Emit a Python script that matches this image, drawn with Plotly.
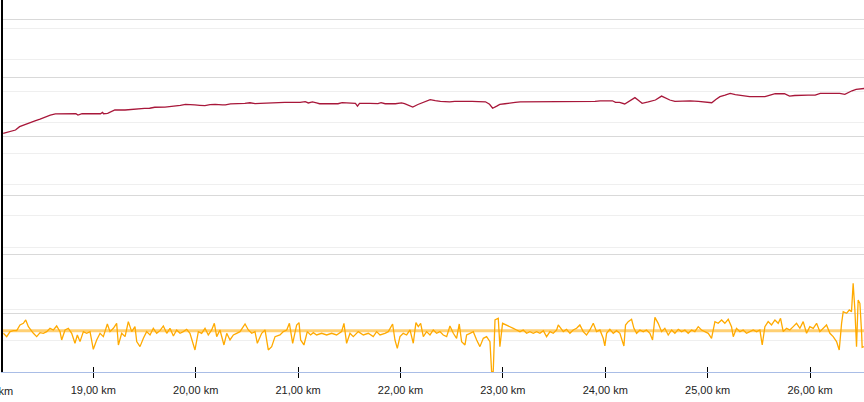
import plotly.graph_objects as go

# ---- data ----
hr_km = [18.12, 18.19, 18.24, 18.28, 18.33, 18.38, 18.43, 18.48, 18.53, 18.58, 18.63, 18.69, 18.77, 18.83, 18.85,
         18.89, 18.97, 19.07, 19.09, 19.10, 19.14, 19.16, 19.21, 19.31, 19.36, 19.39, 19.50, 19.55, 19.60, 19.70,
         19.75, 19.80, 19.85, 19.90, 19.94, 19.99, 20.04, 20.09, 20.14, 20.19, 20.26, 20.29, 20.34, 20.38, 20.43,
         20.48, 20.53, 20.58, 20.63, 20.71, 20.77, 20.87, 21.02, 21.07, 21.10, 21.14, 21.18, 21.21, 21.31, 21.39,
         21.43, 21.49, 21.56, 21.58, 21.60, 21.70, 21.78, 21.81, 21.85, 21.95, 22.01, 22.04, 22.09, 22.12, 22.17,
         22.24, 22.29, 22.34, 22.39, 22.48, 22.53, 22.60, 22.66, 22.70, 22.76, 22.83, 22.87, 22.90, 22.94, 22.97,
         23.02, 23.07, 23.12, 23.17, 23.26, 23.36, 23.41, 23.51, 23.61, 23.70, 23.80, 23.90, 23.95, 24.00, 24.07,
         24.10, 24.14, 24.19, 24.24, 24.29, 24.32, 24.36, 24.42, 24.49, 24.55, 24.59, 24.63, 24.68, 24.75, 24.83,
         24.91, 24.97, 25.04, 25.08, 25.12, 25.17, 25.22, 25.27, 25.32, 25.36, 25.41, 25.49, 25.56, 25.61, 25.66,
         25.75, 25.80, 25.85, 25.90, 25.98, 26.05, 26.10, 26.19, 26.29, 26.34, 26.37, 26.41, 26.45, 26.49, 26.53]
heart_rate = [121.7, 122.6, 123.4, 125.1, 126.0, 126.8, 128.1, 129.0, 130.2, 131.0, 131.6, 131.7, 131.7, 131.7, 131.0,
              131.7, 131.7, 131.7, 132.4, 131.7, 131.9, 132.4, 133.6, 133.6, 133.8, 134.3, 134.4, 134.5, 135.0, 135.1,
              135.3, 135.6, 136.0, 136.5, 136.5, 136.2, 136.0, 135.8, 136.3, 136.5, 136.2, 136.2, 136.7, 136.7, 136.9,
              137.0, 137.3, 136.9, 137.0, 137.2, 137.3, 137.5, 137.5, 137.9, 137.2, 137.7, 137.2, 136.8, 136.8, 136.8,
              137.4, 137.2, 137.0, 135.6, 137.0, 137.0, 136.9, 137.4, 136.8, 136.8, 137.2, 136.8, 135.9, 135.1, 136.4,
              137.8, 138.9, 138.4, 138.0, 137.7, 138.0, 138.0, 137.8, 138.0, 137.9, 137.8, 136.5, 134.5, 135.6, 136.5,
              136.8, 137.0, 137.5, 137.8, 137.8, 137.8, 137.9, 138.0, 138.0, 138.0, 138.0, 138.0, 138.3, 138.3, 138.3,
              137.5, 137.5, 136.7, 138.4, 139.9, 138.7, 137.0, 137.7, 138.7, 140.7, 139.7, 138.7, 138.0, 138.2, 138.3,
              138.0, 137.8, 137.3, 139.0, 140.4, 141.2, 142.1, 141.5, 141.1, 140.6, 140.4, 140.4, 140.4, 141.2, 141.9,
              141.9, 140.7, 141.0, 141.2, 141.2, 141.2, 142.1, 142.1, 142.1, 141.6, 142.5, 143.4, 144.1, 144.3, 144.6]

speed_km = [18.122, 18.154, 18.187, 18.219, 18.252, 18.284, 18.317, 18.340, 18.366, 18.398, 18.415, 18.447, 18.480,
            18.512, 18.545, 18.577, 18.610, 18.642, 18.675, 18.691, 18.724, 18.756, 18.789, 18.821, 18.844, 18.870,
            18.903, 18.935, 18.968, 19.000, 19.033, 19.066, 19.098, 19.137, 19.163, 19.196, 19.228, 19.245, 19.277,
            19.310, 19.342, 19.375, 19.407, 19.424, 19.456, 19.489, 19.521, 19.554, 19.586, 19.619, 19.651, 19.684,
            19.717, 19.749, 19.782, 19.814, 19.847, 19.879, 19.912, 19.944, 19.993, 20.026, 20.058, 20.091, 20.123,
            20.156, 20.182, 20.205, 20.237, 20.276, 20.303, 20.335, 20.368, 20.400, 20.433, 20.482, 20.514, 20.547,
            20.579, 20.602, 20.644, 20.677, 20.709, 20.742, 20.775, 20.823, 20.856, 20.889, 20.915, 20.947, 20.986,
            21.009, 21.025, 21.057, 21.090, 21.122, 21.149, 21.181, 21.230, 21.279, 21.328, 21.376, 21.425, 21.448,
            21.474, 21.507, 21.539, 21.588, 21.637, 21.686, 21.734, 21.767, 21.800, 21.848, 21.881, 21.923, 21.946,
            21.969, 21.995, 22.027, 22.060, 22.093, 22.125, 22.151, 22.174, 22.197, 22.223, 22.255, 22.288, 22.320,
            22.353, 22.385, 22.418, 22.451, 22.483, 22.516, 22.548, 22.574, 22.597, 22.630, 22.646, 22.679, 22.711,
            22.744, 22.776, 22.809, 22.841, 22.874, 22.890, 22.906, 22.923, 22.955, 22.971, 22.997, 23.036, 23.069,
            23.102, 23.134, 23.167, 23.199, 23.232, 23.264, 23.297, 23.330, 23.362, 23.395, 23.427, 23.460, 23.492,
            23.525, 23.541, 23.590, 23.622, 23.655, 23.687, 23.720, 23.752, 23.785, 23.817, 23.850, 23.883, 23.915,
            23.948, 23.980, 23.996, 24.013, 24.045, 24.078, 24.110, 24.143, 24.182, 24.198, 24.224, 24.257, 24.280,
            24.306, 24.338, 24.371, 24.403, 24.436, 24.462, 24.485, 24.517, 24.550, 24.582, 24.615, 24.648, 24.680,
            24.713, 24.745, 24.778, 24.810, 24.843, 24.875, 24.908, 24.940, 24.973, 25.006, 25.038, 25.054, 25.071,
            25.103, 25.136, 25.168, 25.201, 25.233, 25.250, 25.282, 25.315, 25.347, 25.380, 25.412, 25.445, 25.478,
            25.510, 25.533, 25.559, 25.591, 25.624, 25.657, 25.689, 25.712, 25.738, 25.771, 25.803, 25.836, 25.868,
            25.901, 25.933, 25.966, 25.998, 26.031, 26.064, 26.096, 26.129, 26.161, 26.194, 26.226, 26.259, 26.285,
            26.308, 26.324, 26.357, 26.383, 26.405, 26.421, 26.438, 26.454, 26.470, 26.487, 26.503, 26.509, 26.526]
speed = [12.40, 11.33, 12.93, 13.25, 13.25, 15.07, 15.60, 16.67, 14.54, 12.93, 12.40, 11.33, 12.61,
         12.40, 12.93, 14.00, 13.47, 14.75, 12.93, 10.26, 13.47, 14.00, 12.40, 9.20, 11.87, 9.73,
         12.93, 12.40, 12.93, 7.27, 10.26, 12.40, 11.33, 15.39, 12.93, 14.00, 15.60, 8.66, 12.40,
         11.33, 16.14, 12.93, 14.54, 9.73, 8.13, 10.80, 12.93, 11.87, 14.00, 12.40, 13.25, 14.75,
         12.40, 14.00, 11.55, 13.47, 12.40, 12.93, 13.68, 12.40, 7.06, 12.93, 12.40, 14.00, 11.87,
         13.47, 15.60, 11.33, 13.47, 8.66, 12.40, 10.26, 11.87, 12.40, 12.93, 15.39, 13.47, 12.40,
         12.93, 9.20, 12.40, 13.47, 7.06, 8.13, 11.33, 11.87, 12.93, 13.47, 15.60, 9.20, 15.07,
         15.82, 10.26, 8.66, 12.93, 11.87, 12.61, 11.87, 12.40, 11.87, 12.40, 11.87, 12.93, 15.60,
         9.20, 12.40, 11.33, 12.93, 11.87, 12.40, 11.33, 12.93, 11.87, 12.40, 12.93, 15.39, 10.26,
         7.59, 11.33, 12.40, 11.87, 13.47, 9.20, 15.82, 14.54, 15.60, 11.33, 12.93, 11.87, 13.47,
         12.40, 12.93, 11.87, 11.33, 14.75, 12.40, 10.80, 15.39, 9.73, 8.66, 11.87, 12.40, 12.93,
         10.26, 8.13, 10.80, 11.33, 9.73, 0.12, 0.12, 16.67, 17.21, 8.13, 15.60, 15.07, 14.54,
         14.00, 13.47, 12.93, 13.47, 12.40, 12.93, 12.40, 12.93, 12.40, 13.25, 11.33, 12.93, 12.40,
         13.47, 15.07, 12.93, 13.68, 12.40, 13.47, 14.00, 15.07, 12.93, 11.86, 13.47, 15.60, 12.93,
         13.47, 10.80, 8.34, 12.40, 13.68, 12.40, 13.25, 12.40, 8.34, 15.07, 16.14, 16.88, 14.00,
         12.40, 13.47, 12.93, 13.47, 12.40, 10.26, 17.52, 15.60, 12.93, 14.00, 11.86, 13.47, 12.40,
         13.68, 12.93, 13.47, 12.40, 13.47, 12.93, 14.53, 13.47, 12.93, 12.40, 10.80, 12.93, 16.14,
         15.60, 16.67, 15.60, 16.88, 14.53, 11.33, 14.00, 12.93, 13.47, 12.40, 12.93, 13.47, 12.93,
         13.47, 8.66, 14.53, 16.14, 15.07, 16.67, 15.60, 17.20, 12.93, 14.00, 13.47, 14.53, 15.60,
         14.00, 16.14, 12.40, 14.53, 14.00, 15.60, 12.93, 14.00, 15.07, 12.40, 11.33, 9.73, 7.06,
         15.60, 19.34, 18.81, 19.87, 19.34, 28.42, 19.87, 8.13, 23.08, 22.01, 12.93, 7.91, 8.13]
avg_speed = 13.25

x_range = [18.118, 26.527]
tick_vals = [19, 20, 21, 22, 23, 24, 25, 26]
tick_text = ["19,00 km", "20,00 km", "21,00 km", "22,00 km", "23,00 km", "24,00 km", "25,00 km", "26,00 km"]
clipped_tick_val = 18
clipped_tick_text = "18,00 km"

FONT = "Liberation Sans, Arial, sans-serif"

fig = go.Figure()
fig.add_trace(go.Scatter(x=hr_km, y=heart_rate, mode="lines",
                         line=dict(color="#a8173a", width=1.3), hoverinfo="skip",
                         xaxis="x", yaxis="y"))
fig.add_trace(go.Scatter(x=speed_km, y=speed, mode="lines",
                         line=dict(color="#ffaa00", width=1.3), hoverinfo="skip",
                         xaxis="x2", yaxis="y2"))

fig.update_layout(
    width=864, height=402,
    margin=dict(l=3, r=0, t=0, b=30),
    paper_bgcolor="white", plot_bgcolor="white",
    showlegend=False,
    font=dict(family=FONT, size=11, color="#222222"),
    xaxis=dict(range=x_range, tickmode="array", tickvals=tick_vals, ticktext=tick_text,
               ticks="outside", ticklen=5, tickwidth=1, tickcolor="#000000",
               ticklabelstandoff=3,
               showline=True, linecolor="#a9bde6", linewidth=1,
               showgrid=False, zeroline=False,
               tickfont=dict(family=FONT, size=11, color="#222222")),
    xaxis2=dict(range=x_range, overlaying="x", anchor="y2", side="bottom",
                tickmode="array", tickvals=tick_vals,
                ticks="inside", ticklen=5, tickwidth=1, tickcolor="#000000",
                showticklabels=False, showline=False, showgrid=False, zeroline=False),
    yaxis=dict(range=[0, 189.7], dtick=30, showticklabels=False, ticks="",
               showgrid=True, gridcolor="#d9d9d9", gridwidth=1,
               zeroline=False, showline=True, linecolor="#000000", linewidth=2),
    yaxis2=dict(range=[0, 119.2], dtick=10, showticklabels=False, ticks="",
                overlaying="y", side="right", anchor="x2",
                showgrid=True, gridcolor="#efefef", gridwidth=1,
                zeroline=False, showline=False),
)

fig.add_shape(type="line", xref="paper", yref="y2", x0=0, x1=1, y0=avg_speed, y1=avg_speed,
              line=dict(color="rgba(255,170,0,0.55)", width=3), layer="above")

fig.add_annotation(xref="paper", yref="paper",
                   x=(clipped_tick_val - x_range[0]) / (x_range[1] - x_range[0]), y=0,
                   yshift=-11, yanchor="top", xanchor="center", showarrow=False,
                   text=clipped_tick_text, font=dict(family=FONT, size=11, color="#222222"))

fig.write_html("out.html", config={"displayModeBar": False},
               post_script="document.body.style.margin='0';document.body.style.overflow='hidden';")
